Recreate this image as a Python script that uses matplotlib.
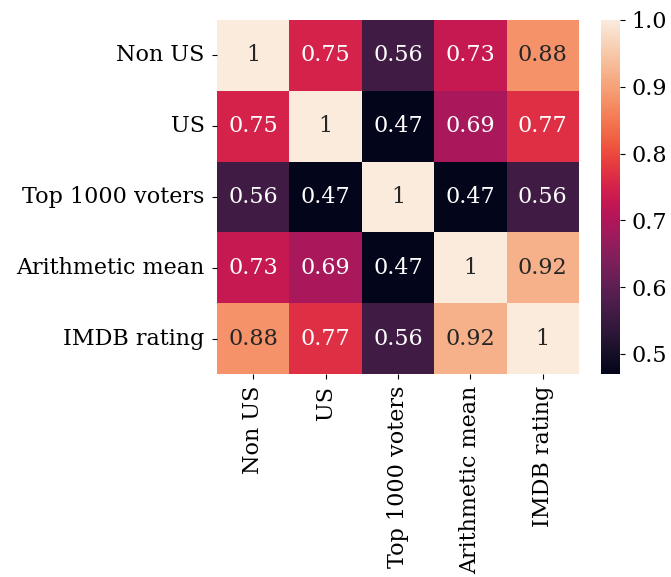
import matplotlib
matplotlib.use("Agg")
import matplotlib.pyplot as plt
import numpy as np
import seaborn as sns

# --- Data ---
labels = ['Non US', 'US', 'Top 1000 voters', 'Arithmetic mean', 'IMDB rating']
corr = np.array([
    [1.00, 0.75, 0.56, 0.73, 0.88],
    [0.75, 1.00, 0.47, 0.69, 0.77],
    [0.56, 0.47, 1.00, 0.47, 0.56],
    [0.73, 0.69, 0.47, 1.00, 0.92],
    [0.88, 0.77, 0.56, 0.92, 1.00],
])

fs = 16
plt.rcParams['font.family'] = 'DejaVu Serif'
plt.rcParams['font.size'] = fs

W, H = 671, 577
fig = plt.figure(figsize=(W / 100, H / 100), dpi=100)
ax = fig.add_axes([217 / W, 1 - 374 / H, 362 / W, 354 / H])
cax = fig.add_axes([601 / W, 1 - 374 / H, 19 / W, 354 / H])

sns.heatmap(corr, annot=True, cmap='rocket', xticklabels=labels, yticklabels=labels,
            ax=ax, cbar_ax=cax, annot_kws={'size': fs})

ax.tick_params(axis='y', labelsize=fs, pad=5.5)
ax.tick_params(axis='x', labelsize=fs, pad=5)
ax.set_yticklabels(labels, rotation=0)
ax.set_xticklabels(labels, rotation=90)
cax.tick_params(labelsize=fs, pad=5)

fig.savefig('out.png', dpi=100)
